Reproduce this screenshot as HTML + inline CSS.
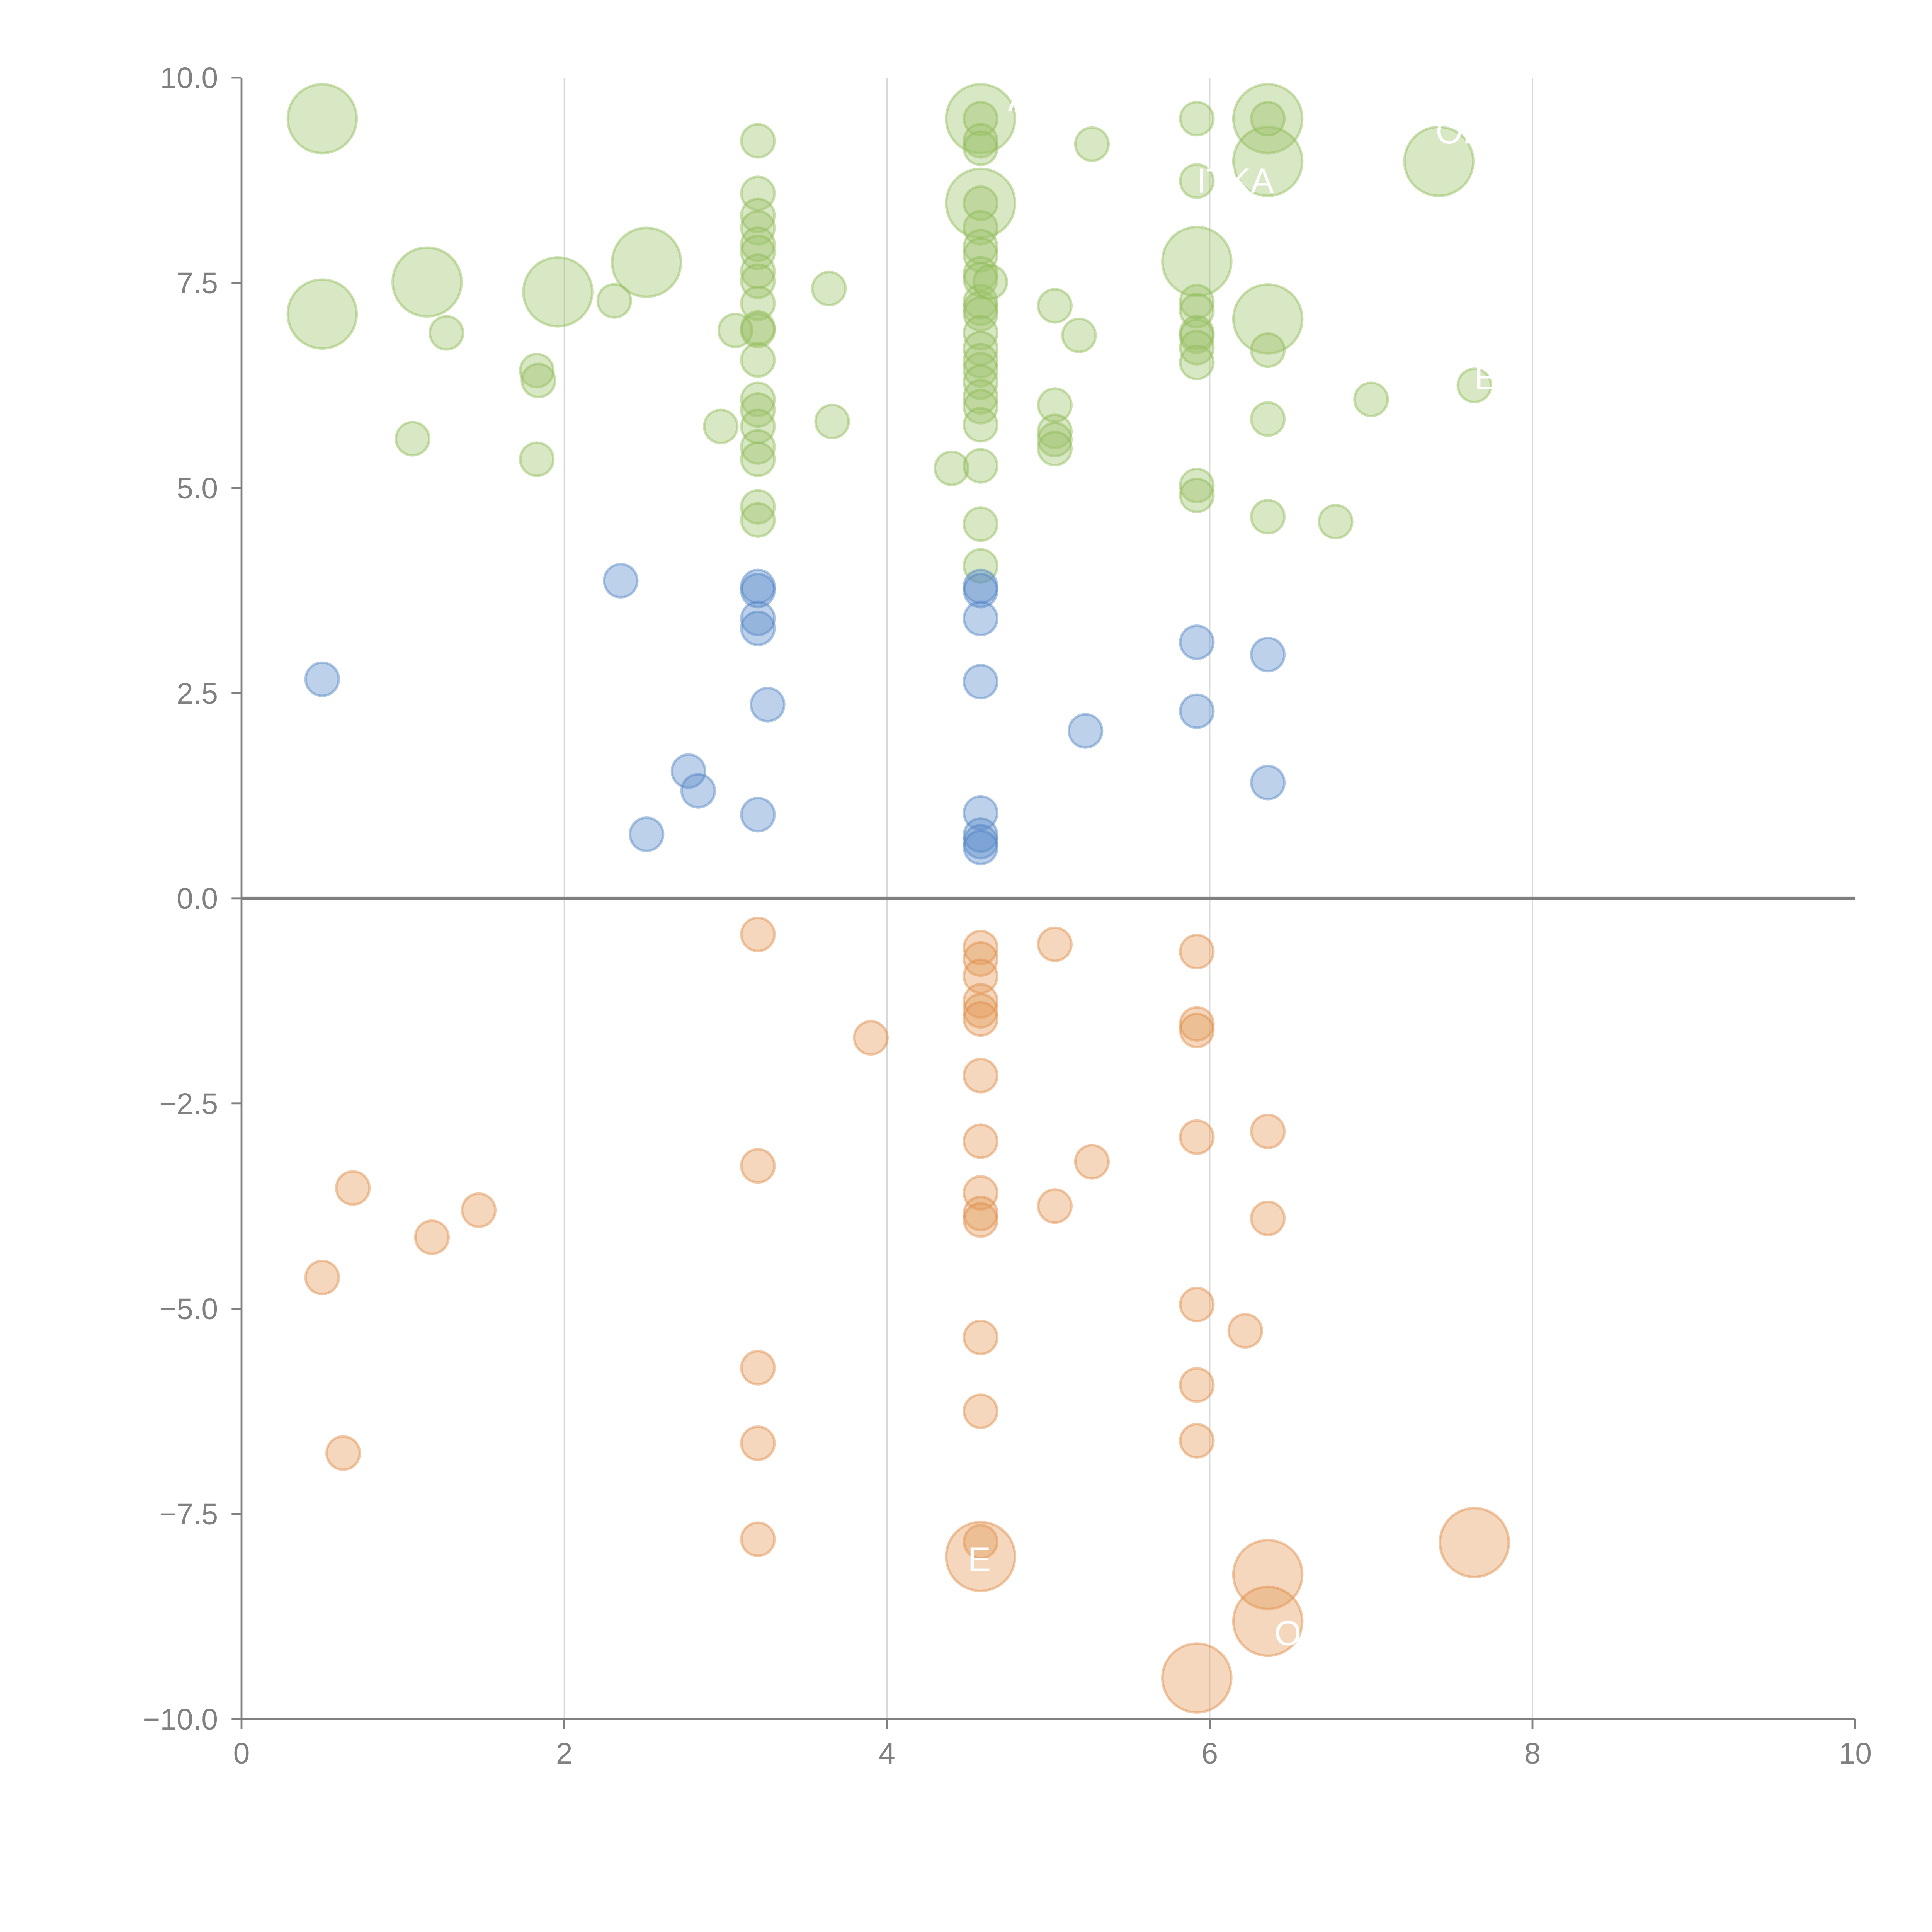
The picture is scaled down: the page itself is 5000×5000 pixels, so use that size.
<!DOCTYPE html>
<html><head><meta charset="utf-8"><style>
html,body{margin:0;padding:0;background:#fff;}
svg{display:block;}
text{font-family:"Liberation Sans",Arial,sans-serif;}
</style></head><body>
<svg id="chart" width="5000" height="5000" viewBox="0 0 1560 1560" xmlns="http://www.w3.org/2000/svg">
<g id="grid"></g>
<g id="axes"></g>
<g id="marks"></g>
</svg>
<script>
const xTicks=[0,2,4,6,8,10];
const yTicks=[10,7.5,5,2.5,0,-2.5,-5,-7.5,-10];
const yTickLabels=["10.0","7.5","5.0","2.5","0.0","\u22122.5","\u22125.0","\u22127.5","\u221210.0"];
const greenX=[0.50,0.50,1.15,1.96,2.51,4.58,4.58,5.92,6.36,6.36,6.36,7.42,
3.20,3.20,3.20,3.20,3.20, 3.20,3.20,3.20,3.20,3.20, 3.20,3.20,3.20,3.20,3.20, 3.20,3.20,3.20,3.20,
2.31,1.27,1.83,1.84,1.06,1.83,2.97,3.06,3.64,3.66,4.40,
4.58,4.58,4.58,4.58,4.58, 4.58,4.58,4.58,4.58,4.58, 4.58,4.58,4.58,4.58,4.58, 4.58,4.58,4.58,4.58,4.58, 4.58,4.58,4.58, 4.64,
5.04,5.04,5.04,5.04,5.04,5.19,5.27,
5.92,5.92,5.92,5.92,5.92, 5.92,5.92,5.92,5.92,5.92,
6.36,6.36,6.36,6.36,6.78,7.00,7.64];
const greenY=[9.50,7.12,7.51,7.39,7.75,9.50,8.47,7.76,9.50,8.98,7.06,8.98,
9.23,8.59,8.32,8.17,7.97, 7.87,7.64,7.52,7.25,6.95, 6.92,6.56,6.08,5.95,5.75, 5.50,5.35,4.77,4.61,
7.28,6.89,6.43,6.31,5.60,5.35,5.75,6.92,7.43,5.81,5.24,
9.50,9.23,9.14,8.47,8.17, 7.94,7.84,7.61,7.54,7.27, 7.19,7.12,6.89,6.70,6.55, 6.44,6.29,6.11,5.99,5.77, 5.27,4.56,4.05, 7.51,
7.22,6.01,5.69,5.59,5.48,6.86,9.19,
9.50,8.74,7.27,7.16,6.89, 6.85,6.71,6.53,5.03,4.91,
9.50,6.68,5.84,4.65,4.59,6.08,6.25];
const greenS=[2,2,2,2,2,2,2,2,2,2,2,2].concat(new Array(greenX.length-12).fill(1));
const blueX=[0.50,2.35,3.20,3.20,3.20,3.20,3.26,2.77,2.83,2.51,3.20,4.58,4.58,4.58,4.58,4.58,4.58,4.58,4.58,5.23,5.92,5.92,6.36,6.36];
const blueY=[2.67,3.87,3.80,3.75,3.41,3.29,2.36,1.55,1.31,0.78,1.02,3.80,3.75,3.41,2.64,1.04,0.77,0.69,0.62,2.04,3.12,2.28,2.97,1.41];
const blueS=new Array(blueX.length).fill(1);
const orangeX=[3.20,4.58,4.58,4.58,4.58,4.58,4.58,5.04,3.90,4.58,5.92,5.92,5.92,4.58,5.92,3.20,5.27,6.36,4.58,4.58,4.58,5.04,6.36,0.69,1.47,1.18,0.50,5.92,6.22,4.58,3.20,5.92,4.58,3.20,5.92,0.63,3.20,4.58,
4.58,6.36,6.36,5.92,7.64];
const orangeY=[-0.44,-0.60,-0.74,-0.95,-1.25,-1.37,-1.47,-0.56,-1.70,-2.16,-0.65,-1.53,-1.61,-2.96,-2.91,-3.26,-3.21,-2.84,-3.59,-3.84,-3.92,-3.75,-3.90,-3.53,-3.80,-4.13,-4.62,-4.95,-5.27,-5.35,-5.72,-5.93,-6.25,-6.64,-6.61,-6.76,-7.81,-7.84,
-8.02,-8.24,-8.81,-9.50,-7.85];
const orangeS=new Array(38).fill(1).concat([2,2,2,2,2]);

const NS="http://www.w3.org/2000/svg";
const X0=195,X1=1498,Y0=1388,Y1=62.7;
function sx(v){return X0+(v-0)/(10-0)*(X1-X0);}
function sy(v){return Y0-(v+10)/20*(Y0-Y1);}
function rs(s){return s===2?27.8:13.4;}
function el(tag,attrs,parent){const e=document.createElementNS(NS,tag);for(const k in attrs)e.setAttribute(k,attrs[k]);parent.appendChild(e);return e;}
const grid=document.getElementById('grid'),axes=document.getElementById('axes'),marks=document.getElementById('marks');
xTicks.forEach(t=>{if(t>0&&t<10){const l=el('line',{x1:sx(t),x2:sx(t),y1:Y1,y2:Y0,stroke:'#d8d8d8','stroke-width':1},grid);

}});
const zl=el('line',{x1:X0,x2:X1,y1:sy(0),y2:sy(0),stroke:'#808080','stroke-width':2.5},grid);


const ya=el('line',{x1:X0,x2:X0,y1:Y1,y2:Y0,stroke:'#808080','stroke-width':1.5},axes);


const xa=el('line',{x1:X0,x2:X1,y1:Y0,y2:Y0,stroke:'#808080','stroke-width':1.5},axes);


yTicks.forEach((t,i)=>{const y=sy(t);
const tk=el('line',{x1:X0-8,x2:X0,y1:y,y2:y,stroke:'#808080','stroke-width':1.5},axes);


const tx=el('text',{x:X0-19,y:y+8.5,'text-anchor':'end','font-size':24,fill:'#808080'},axes);tx.textContent=yTickLabels[i];

});
xTicks.forEach(t=>{const x=sx(t);
const tk=el('line',{x1:x,x2:x,y1:Y0,y2:Y0+8,stroke:'#808080','stroke-width':1.5},axes);


const tx=el('text',{x:x,y:Y0+36,'text-anchor':'middle','font-size':24,fill:'#808080'},axes);tx.textContent=String(t);

});
function series(xs,ys,ss,fill,stroke,name){xs.forEach((v,i)=>{
const c=el('circle',{cx:sx(v),cy:sy(ys[i]),r:rs(ss[i]),fill:fill,'fill-opacity':0.4,stroke:stroke,'stroke-opacity':0.45,'stroke-width':2},marks);

});}
series(greenX,greenY,greenS,'#9dc36b','#8fbb55','green-bubble');
series(blueX,blueY,blueS,'#5b8ccb','#4f82c4','blue-bubble');
series(orangeX,orangeY,orangeS,'#e39a5a','#e08a45','orange-bubble');
const labels=[["NN",0.5,7.7],["A",4.75,9.6],["ITKA",5.92,8.6],["OHI",7.4,9.2],["E",7.64,6.2],["E",4.5,-8.2],["O",6.4,-9.1]];
labels.forEach(l=>{const t=el('text',{x:sx(l[1]),y:sy(l[2]),'font-size':28,fill:'#fff'},marks);t.textContent=l[0];

});
</script>
</body></html>
